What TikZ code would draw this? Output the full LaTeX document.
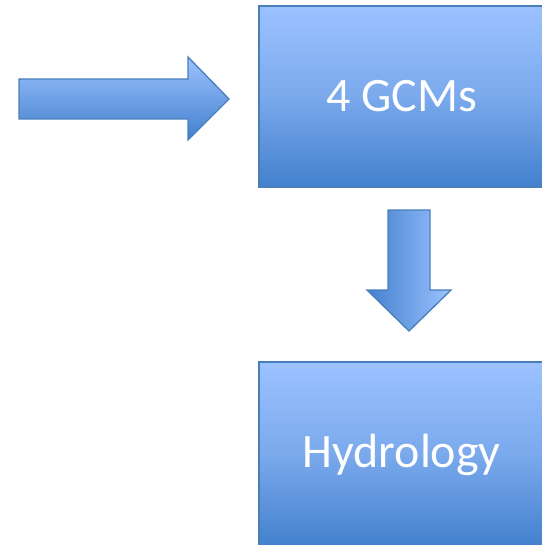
\documentclass[tikz,border=0pt]{standalone}
\usepackage{fontspec}
\setmainfont{Carlito}
\usetikzlibrary{positioning}
\definecolor{claro}{HTML}{9CC2FF}
\definecolor{oscuro}{HTML}{4380CD}
\definecolor{borde}{HTML}{4A7EBB}

\begin{document}
\begin{tikzpicture}[x=1pt,y=-1pt,
    caja/.style={draw=borde,line width=1.3pt,top color=claro,bottom color=oscuro,middle color=claro!62!oscuro,
                 minimum width=285pt,text=white,font=\fontsize{48}{54}\selectfont},
    flecha/.style={draw=borde,line width=1.3pt,line join=miter}]
  \useasboundingbox (0,0) rectangle (541,545);
  \node[caja,minimum height=181pt] (gcm) at (401.5,96.5) {4 GCMs};
  \node[caja,minimum height=185pt] (hidro) at (401.5,454.5) {Hydrology};
  % flecha de entrada
  \draw[flecha,top color=claro,bottom color=oscuro] (19,79) -- (188,79) -- (188,57) -- (229,99)
    -- (188,140) -- (188,119) -- (19,119) -- cycle;
  % flecha hacia abajo
  \draw[flecha,left color=oscuro,right color=claro] (388,210) -- (430,210) -- (430,290) -- (451,290)
    -- (409,331) -- (367,290) -- (388,290) -- cycle;
\end{tikzpicture}
\end{document}
